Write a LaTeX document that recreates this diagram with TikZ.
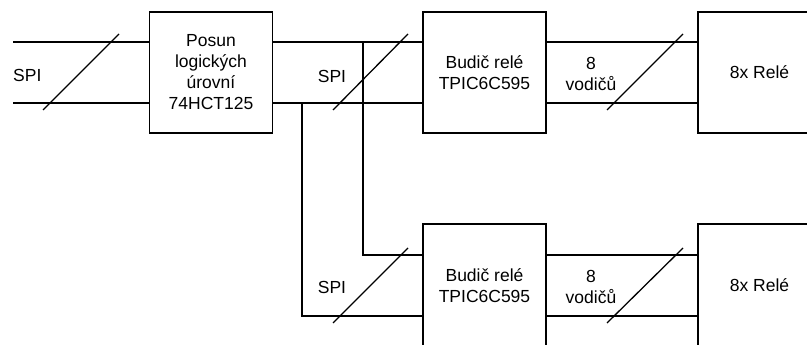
\documentclass[tikz,border=0pt]{standalone}
\usepackage{fontspec}
\setmainfont{Liberation Sans}
\begin{document}
\begin{tikzpicture}[x=1pt,y=-1pt,
  blk/.style={draw, line width=1.3pt, minimum width=123pt, minimum height=121pt, inner sep=0pt, align=center, font=\fontsize{17.5}{21}\selectfont},
  wire/.style={line width=1.3pt},
  slash/.style={line width=1.3pt},
  lbl/.style={font=\fontsize{17.5}{21}\selectfont, inner sep=0pt, align=center}]
\useasboundingbox (0,0) rectangle (807,345);
\clip (0,0) rectangle (807,345);
% blocks
\node[blk] (A) at (211,72.5) {Posun\\logických\\úrovní\\74HCT125};
\node[blk] (B1) at (484.5,72.5) {Budič relé\\TPIC6C595};
\node[blk] (C1) at (759.5,72.5) {8x Relé};
\node[blk, minimum height=123pt] (B2) at (484.5,285.5) {Budič relé\\TPIC6C595};
\node[blk, minimum height=123pt] (C2) at (759.5,285.5) {8x Relé};
% free ends
\coordinate (in1) at (13,42);
\coordinate (in2) at (13,103);
\coordinate (j1) at (363,103);
\coordinate (j2) at (302,103);
% input wires
\draw[wire] (in1) -- (in1 -| A.west);
\draw[wire] (in2) -- (in2 -| A.west);
% A to B1
\draw[wire] (A.east |- in1) -- (B1.west |- in1);
\draw[wire] (A.east |- in2) -- (B1.west |- in2);
% B1 to C1
\draw[wire] (B1.east |- in1) -- (C1.west |- in1);
\draw[wire] (B1.east |- in2) -- (C1.west |- in2);
% branches to B2
\coordinate (b3) at (423,255);
\coordinate (b4) at (423,316);
\draw[wire] (j1 |- in1) -- (j1 |- b3) -- (B2.west |- b3);
\draw[wire] (j2) -- (j2 |- b4) -- (B2.west |- b4);
% B2 to C2
\draw[wire] (B2.east |- b3) -- (C2.west |- b3);
\draw[wire] (B2.east |- b4) -- (C2.west |- b4);
% slashes
\draw[slash] (43,110) -- (119,34);
\draw[slash] (333,110) -- (408,34);
\draw[slash] (607,110) -- (683,34);
\draw[slash] (333,323) -- (408,248);
\draw[slash] (607,323) -- (683,248);
% labels
\node[lbl, anchor=west] (l1) at (13,75) {SPI};
\node[lbl] (l2) at (332,76) {SPI};
\node[lbl] (l3) at (332,287) {SPI};
\node[lbl] (l4) at (591,74) {8\\vodičů};
\node[lbl] (l5) at (591,287) {8\\vodičů};
\end{tikzpicture}
\end{document}
